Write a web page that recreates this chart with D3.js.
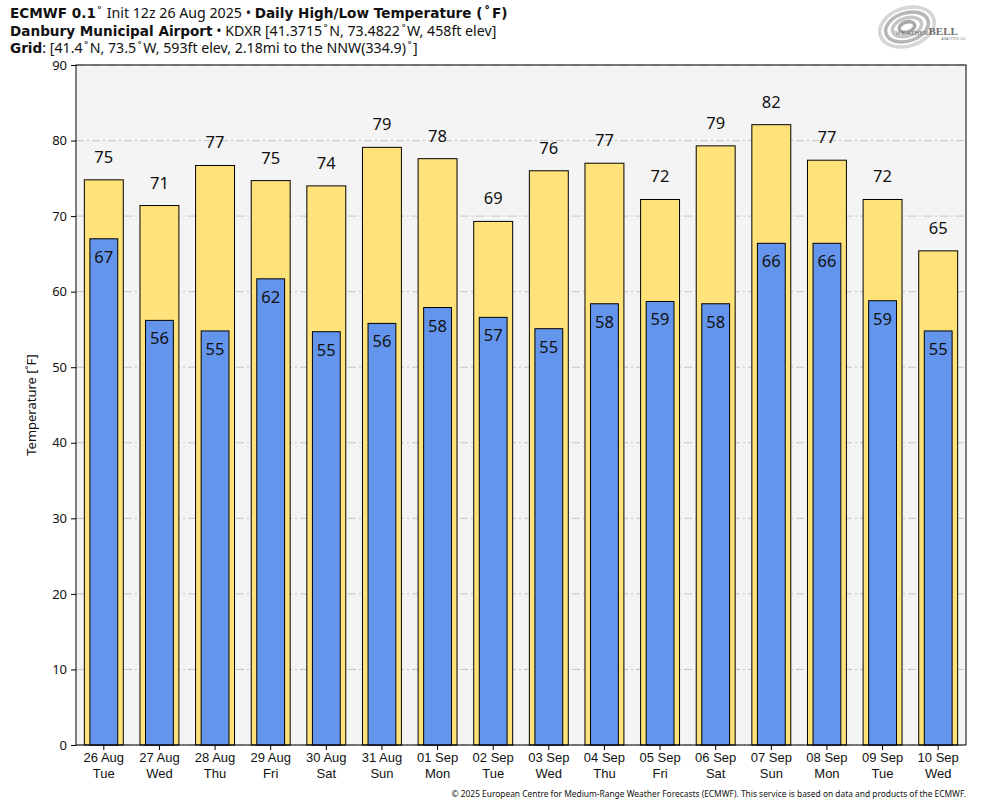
<!DOCTYPE html>
<html>
<head>
<meta charset="utf-8">
<script src="https://cdn.jsdelivr.net/npm/d3@7"></script>
<style>
  body { margin: 0; background: #fff; }
  svg { font-family: "Noto Sans", "DejaVu Sans", sans-serif; }
</style>
</head>
<body>
<svg id="chart" width="984" height="808"></svg>
<script>
// Chart data
const dates = ["26 Aug", "27 Aug", "28 Aug", "29 Aug", "30 Aug", "31 Aug", "01 Sep", "02 Sep",
               "03 Sep", "04 Sep", "05 Sep", "06 Sep", "07 Sep", "08 Sep", "09 Sep", "10 Sep"];
const weekdays = ["Tue", "Wed", "Thu", "Fri", "Sat", "Sun", "Mon", "Tue",
                  "Wed", "Thu", "Fri", "Sat", "Sun", "Mon", "Tue", "Wed"];
const highs = [74.8, 71.4, 76.7, 74.7, 74.0, 79.1, 77.6, 69.3, 76.0, 77.0, 72.2, 79.3, 82.1, 77.4, 72.2, 65.4];
const lows = [67.0, 56.2, 54.8, 61.7, 54.7, 55.8, 57.9, 56.6, 55.1, 58.4, 58.7, 58.4, 66.4, 66.4, 58.8, 54.8];
const yTicks = [0, 10, 20, 30, 40, 50, 60, 70, 80, 90];

const svg = d3.select("#chart");
const margin = { left: 76, right: 18, top: 65, bottom: 63 };
const width = +svg.attr("width");
const height = +svg.attr("height");
const plotW = width - margin.left - margin.right;
const plotH = height - margin.top - margin.bottom;

const x = d3.scaleBand().domain(d3.range(dates.length)).range([0, plotW]);
const y = d3.scaleLinear().domain([0, 90]).range([plotH, 0]);

const g = svg.append("g").attr("transform", `translate(${margin.left},${margin.top})`);

// plot background
g.append("rect")
    .attr("width", plotW).attr("height", plotH)
    .attr("fill", "#f4f4f4");

// gridlines
g.selectAll("line.grid").data(yTicks).enter().append("line")
    .attr("class", "grid")
    .attr("x1", 0).attr("x2", plotW)
    .attr("y1", d => y(d)).attr("y2", d => y(d))
    .attr("stroke", "#c4c4c4")
    .attr("stroke-width", 1)
    .attr("stroke-dasharray", "8,3,2,3");

const highW = x.bandwidth() * 0.7;
const lowW = x.bandwidth() * 0.5;

// high bars
g.selectAll("rect.high").data(highs).enter().append("rect")
    .attr("class", "high")
    .attr("x", (d, i) => x(i) + (x.bandwidth() - highW) / 2)
    .attr("y", d => y(d))
    .attr("width", highW)
    .attr("height", d => plotH - y(d))
    .attr("fill", "#ffe37a")
    .attr("stroke", "#000")
    .attr("stroke-width", 1);

// low bars
g.selectAll("rect.low").data(lows).enter().append("rect")
    .attr("class", "low")
    .attr("x", (d, i) => x(i) + (x.bandwidth() - lowW) / 2)
    .attr("y", d => y(d))
    .attr("width", lowW)
    .attr("height", d => plotH - y(d))
    .attr("fill", "#6495ed")
    .attr("stroke", "#000")
    .attr("stroke-width", 1);

// value labels
g.selectAll("text.hl").data(highs).enter().append("text")
    .attr("x", (d, i) => x(i) + x.bandwidth() / 2)
    .attr("y", d => y(d) - 17)
    .attr("text-anchor", "middle")
    .attr("font-size", 16.5)
    .attr("fill", "#111")
    .text(d => Math.round(d));

g.selectAll("text.ll").data(lows).enter().append("text")
    .attr("x", (d, i) => x(i) + x.bandwidth() / 2)
    .attr("y", d => y(d) + 24)
    .attr("text-anchor", "middle")
    .attr("font-size", 16.5)
    .attr("fill", "#111")
    .text(d => Math.round(d));

// frame
g.append("rect")
    .attr("width", plotW).attr("height", plotH)
    .attr("fill", "none").attr("stroke", "#000").attr("stroke-width", 1);

// y axis
const yAxis = g.append("g")
    .call(d3.axisLeft(y).tickValues(yTicks).tickSize(5).tickPadding(4));
yAxis.select(".domain").remove();
yAxis.selectAll("text").attr("font-size", 13).attr("fill", "#111")
    .attr("font-family", "Noto Sans, DejaVu Sans, sans-serif");

// x axis
const xAxis = g.append("g").attr("transform", `translate(0,${plotH})`)
    .call(d3.axisBottom(x).tickSize(5).tickFormat(""));
xAxis.select(".domain").remove();
xAxis.selectAll(".tick").each(function (d) {
    const t = d3.select(this).append("text")
        .attr("text-anchor", "middle")
        .attr("fill", "#111")
        .attr("font-size", 13);
    t.append("tspan").attr("x", 0).attr("y", 17).text(dates[d]);
    t.append("tspan").attr("x", 0).attr("y", 33).text(weekdays[d]);
});

// y axis title
svg.append("text")
    .attr("transform", `translate(36,${margin.top + plotH / 2}) rotate(-90)`)
    .attr("text-anchor", "middle")
    .attr("font-size", 13)
    .attr("fill", "#111")
    .text("Temperature [˚F]");

// header: three separate lines, bold parts in a wider face
const deg = "\u200a˚\u200a";
const headerLines = [
    [["ECMWF 0.1", true], [deg + " Init 12z 26 Aug 2025 • ", false], ["Daily High/Low Temperature (" + deg + "F)", true]],
    [["Danbury Municipal Airport", true], [" • KDXR [41.3715" + deg + "N, 73.4822" + deg + "W, 458ft elev]", false]],
    [["Grid", true], [": [41.4" + deg + "N, 73.5" + deg + "W, 593ft elev, 2.18mi to the NNW(334.9)" + deg + "]", false]]
];
headerLines.forEach((parts, i) => {
    const t = svg.append("text")
        .attr("x", 10).attr("y", 18 + i * 17.5)
        .attr("font-size", 14.2).attr("fill", "#111");
    parts.forEach(p => {
        const s = t.append("tspan").text(p[0]);
        if (p[1]) s.attr("font-weight", "bold").attr("font-family", "DejaVu Sans, sans-serif").attr("font-size", 13.6);
    });
});

// logo (approximation)
const logo = svg.append("g").attr("transform", "translate(907,27)").attr("opacity", 0.85);
[[28, 19, "#cfcfcf"], [22, 14, "#aaa"], [15, 9, "#bdbdbd"], [8, 5, "#9a9a9a"]].forEach(r => {
    logo.append("ellipse").attr("rx", r[0]).attr("ry", r[1])
        .attr("fill", "none").attr("stroke", r[2]).attr("stroke-width", 3.5)
        .attr("transform", "rotate(-18)");
});
const lt = logo.append("text").attr("x", -12).attr("y", 8)
    .attr("font-family", "Liberation Serif, serif").attr("fill", "#555");
lt.append("tspan").attr("font-size", 7).text("WEATHER");
lt.append("tspan").attr("font-size", 11).attr("font-weight", "bold").text("BELL");
logo.append("text").attr("x", 59).attr("y", 13).attr("text-anchor", "end")
    .attr("font-size", 3.5).attr("fill", "#666").text("ANALYTICS LLC");

// footer
svg.append("text")
    .attr("x", 966).attr("y", 797)
    .attr("text-anchor", "end")
    .attr("font-size", 8.4)
    .attr("fill", "#111")
    .text("© 2025 European Centre for Medium-Range Weather Forecasts (ECMWF). This service is based on data and products of the ECMWF.");
</script>
</body>
</html>
